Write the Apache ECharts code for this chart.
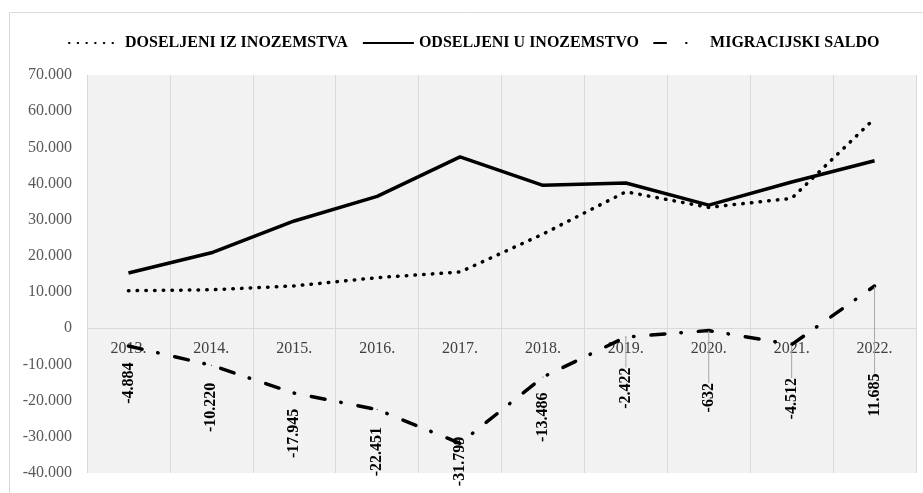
<!DOCTYPE html>
<html><head><meta charset="utf-8">
<script src="https://cdn.jsdelivr.net/npm/echarts@6/dist/echarts.min.js"></script>
<style>html,body{margin:0;padding:0;background:#fff}#c{width:923px;height:493px}</style>
</head><body><div id="c"></div>
<script>
const years = ['2013.', '2014.', '2015.', '2016.', '2017.', '2018.', '2019.', '2020.', '2021.', '2022.'];
const doseljeni = [10378, 10638, 11706, 13985, 15553, 26029, 37726, 33414, 35912, 57972];
const odseljeni = [15262, 20858, 29651, 36436, 47352, 39515, 40148, 34046, 40424, 46287];
const saldo = [-4884, -10220, -17945, -22451, -31799, -13486, -2422, -632, -4512, 11685];
const yMin = -40000, yMax = 70000, yStep = 10000;

function fmt(v) {
  const s = Math.abs(v).toString().replace(/\B(?=(\d{3})+(?!\d))/g, '.');
  return (v < 0 ? '-' : '') + s;
}

// label layout (pixel offsets below each point) and which ones get leader lines
const labelDrop = [17, 18, 16, 18, -6, 16, 31, 53, 34, 88];
const leader = [false, false, false, false, false, false, true, true, true, true];

const W = 923, H = 493;
const gTop = 75, gBottom = 20, gLeft = 87, gRight = 7;
const gH = H - gTop - gBottom;
// move category axis (line + labels) up to the zero line
const zeroOffset = -gH * (0 - yMin) / (yMax - yMin);

const serif = 'Liberation Serif';
const chart = echarts.init(document.getElementById('c'), null, {renderer: 'canvas'});

const saldoData = saldo.map((v, i) => ({
  value: v,
  label: {position: [0.5, labelDrop[i]]},
  labelLine: {show: leader[i], lineStyle: {color: '#a6a6a6', width: 1}}
}));

chart.setOption({
  animation: false,
  backgroundColor: '#fff',
  graphic: [{
    type: 'rect', left: 7, top: 10, z: -10,
    shape: {width: 940, height: 500},
    style: {fill: 'none', stroke: '#d9d9d9', lineWidth: 1}
  }],
  legend: {
    left: 63, top: 30, itemWidth: 51, itemHeight: 14, itemGap: 14,
    itemStyle: {opacity: 0},
    textStyle: {fontFamily: serif, fontWeight: 'bold', fontSize: 16, color: '#000'},
    data: [
      {name: 'DOSELJENI IZ INOZEMSTVA'},
      {name: 'ODSELJENI U INOZEMSTVO'},
      {name: 'MIGRACIJSKI SALDO', lineStyle: {type: [12, 20, 0.5, 60]}}
    ]
  },
  grid: {left: gLeft, right: gRight, top: gTop, bottom: gBottom, show: true,
         backgroundColor: '#f2f2f2', borderWidth: 0, outerBoundsMode: 'none', containLabel: false},
  xAxis: [{
    type: 'category', data: years, boundaryGap: true, position: 'bottom', offset: zeroOffset,
    axisLine: {onZero: false, lineStyle: {color: '#d9d9d9', width: 1}},
    axisTick: {show: false, interval: 0},
    axisLabel: {interval: 0, fontFamily: serif, fontSize: 16, color: '#404040', margin: 13},
    splitLine: {show: true, interval: 0, lineStyle: {color: '#d9d9d9', width: 1}}
  }],
  yAxis: {
    type: 'value', min: yMin, max: yMax, interval: yStep,
    axisLine: {show: false}, axisTick: {show: false}, splitLine: {show: false},
    axisLabel: {fontFamily: serif, fontSize: 16, color: '#595959', margin: 15, formatter: v => fmt(v)}
  },
  series: [
    {
      name: 'DOSELJENI IZ INOZEMSTVA', type: 'line', data: doseljeni, symbol: 'none',
      itemStyle: {color: '#000'},
      lineStyle: {color: '#000', width: 3.5, type: [0.5, 8.2], cap: 'round'}
    },
    {
      name: 'ODSELJENI U INOZEMSTVO', type: 'line', data: odseljeni, symbol: 'none',
      itemStyle: {color: '#000'},
      lineStyle: {color: '#000', width: 3.5}
    },
    {
      name: 'MIGRACIJSKI SALDO', type: 'line', data: saldoData, symbol: 'circle', symbolSize: 1,
      itemStyle: {color: '#000'},
      lineStyle: {color: '#000', width: 3.5, type: [14, 16, 0.5, 17], cap: 'round'},
      label: {
        show: true, rotate: 90, align: 'right', verticalAlign: 'middle',
        fontFamily: serif, fontWeight: 'bold', fontSize: 16, color: '#000',
        formatter: p => fmt(p.value)
      },
      z: 3
    }
  ]
});
</script>
</body></html>
